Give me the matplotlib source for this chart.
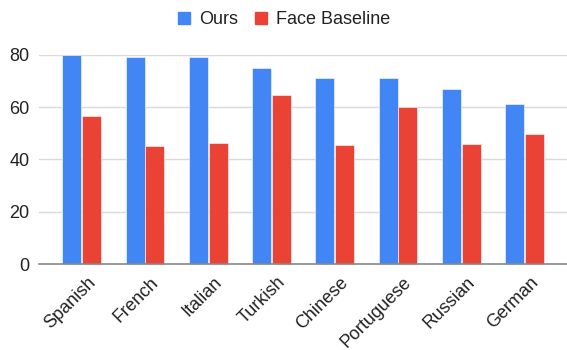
import matplotlib
matplotlib.use("Agg")
import matplotlib.pyplot as plt
import numpy as np
from matplotlib.lines import Line2D

languages = ["Spanish", "French", "Italian", "Turkish", "Chinese", "Portuguese", "Russian", "German"]
ours = [80, 79, 79, 75, 71, 71, 67, 61]
face_baseline = [56.4, 45.2, 46.4, 64.7, 45.6, 59.9, 46.0, 49.8]
series_names = ["Ours", "Face Baseline"]
y_ticks = [0, 20, 40, 60, 80]

BLUE = "#4285F4"
RED = "#EA4335"
TEXT = "#222222"

plt.rcParams["font.family"] = ["Liberation Sans", "DejaVu Sans"]

fig = plt.figure(figsize=(5.67, 3.5), dpi=100)
ax = fig.add_axes([0.0693, 0.2457, 0.9307, 0.598])

x = np.arange(len(languages))
w = 0.30
ax.bar(x - w / 2 - 0.007, ours, width=w, color=BLUE, edgecolor="white", linewidth=0.4, zorder=3, clip_on=False)
ax.bar(x + w / 2 + 0.007, face_baseline, width=w, color=RED, edgecolor="white", linewidth=0.4, zorder=3, clip_on=False)

ax.set_xlim(-0.672, len(languages) - 1 + 0.672)
ax.set_ylim(0, 80)
ax.set_yticks(y_ticks)
ax.set_yticklabels([str(t) for t in y_ticks])
ax.yaxis.grid(True, color="#d9d9d9", linewidth=1.0, zorder=0)
ax.set_axisbelow(True)

for s in ["top", "right", "left"]:
    ax.spines[s].set_visible(False)
ax.spines["bottom"].set_color("#888888")
ax.spines["bottom"].set_linewidth(1.2)
ax.spines["bottom"].set_zorder(4)

ax.tick_params(axis="both", length=0, labelsize=13, labelcolor=TEXT)
ax.tick_params(axis="y", pad=7.2)
ax.set_xticks(x + 0.08)
ax.set_xticklabels(languages, rotation=45, ha="right", rotation_mode="anchor")
ax.tick_params(axis="x", pad=7)

handles = [Line2D([], [], marker="s", linestyle="none", markersize=9,
                  markerfacecolor=c, markeredgecolor=c) for c in (BLUE, RED)]
fig.legend(handles, series_names, loc="center", bbox_to_anchor=(0.5, 0.943),
           ncol=2, frameon=False, fontsize=13, handlelength=0.8,
           handletextpad=0.4, columnspacing=0.9, labelcolor=TEXT)

fig.savefig("out.png", dpi=100, facecolor="white")
